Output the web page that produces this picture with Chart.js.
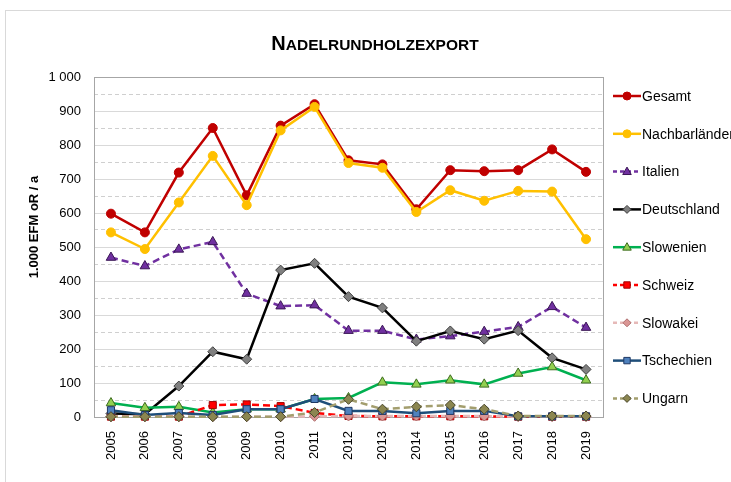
<!DOCTYPE html>
<html>
<head>
<meta charset="utf-8">
<script src="https://cdn.jsdelivr.net/npm/chart.js@4.4.0/dist/chart.umd.min.js"></script>
<style>
html, body { margin: 0; padding: 0; background: #fff; }
#wrap { width: 731px; height: 482px; position: relative; }
</style>
</head>
<body>
<div id="wrap"><canvas id="chart"></canvas></div>
<script>
// data (1.000 EFM oR / a)
const years = ['2005', '2006', '2007', '2008', '2009', '2010', '2011', '2012', '2013', '2014', '2015', '2016', '2017', '2018', '2019'];
const gesamt = [598, 543, 719, 850, 652, 857, 920, 755, 743, 611, 726, 723, 726, 787, 721];
const nachbarlaender = [543, 494, 631, 768, 623, 843, 912, 747, 733, 603, 667, 636, 665, 663, 523];
const italien = [469, 444, 493, 515, 363, 326, 329, 254, 254, 228, 238, 251, 265, 324, 263];
const deutschland = [10, 8, 91, 192, 170, 432, 452, 354, 321, 223, 253, 229, 254, 174, 140];
const slowenien = [41, 27, 30, 13, 23, 23, 53, 56, 102, 96, 108, 96, 128, 147, 108];
const schweiz = [1, 1, 1, 35, 37, 32, 12, 3, 2, 2, 2, 2, 1, 1, 1];
const slowakei = [1, 1, 1, 1, 1, 1, 2, 3, 3, 3, 3, 3, 1, 1, 1];
const tschechien = [20, 6, 12, 6, 23, 23, 53, 18, 18, 11, 18, 18, 2, 2, 2];
const ungarn = [1, 1, 1, 1, 1, 1, 13, 52, 23, 30, 35, 23, 3, 3, 3];
const yTicks = [0, 100, 200, 300, 400, 500, 600, 700, 800, 900, 1000];

const FONT = "'Liberation Sans', Arial, sans-serif";

function series(label, data, line, dash, style, fill, edge, radius) {
    return {
        label: label,
        data: data,
        borderColor: line,
        backgroundColor: line,
        borderWidth: 2.5,
        borderDash: dash,
        pointStyle: style,
        pointRadius: radius,
        pointHoverRadius: radius,
        pointBackgroundColor: fill,
        pointBorderColor: edge,
        pointBorderWidth: 1,
        tension: 0,
        fill: false,
        clip: false
    };
}

const datasets = [
    series('Gesamt', gesamt, '#c00000', [], 'circle', '#c00000', '#c00000', 4.5),
    series('Nachbarländer', nachbarlaender, '#ffc000', [], 'circle', '#ffc000', '#ffc000', 4.5),
    series('Italien', italien, '#7030a0', [7, 4], 'triangle', '#7030a0', '#3a1655', 5.5),
    series('Deutschland', deutschland, '#000000', [], 'rectRot', '#808080', '#404040', 5),
    series('Slowenien', slowenien, '#00b050', [], 'triangle', '#92d050', '#3d6b1f', 5.5),
    series('Schweiz', schweiz, '#ff0000', [7, 4], 'rect', '#ff0000', '#a00000', 5),
    series('Slowakei', slowakei, '#e6b9b8', [7, 4], 'rectRot', '#da9694', '#b07070', 5),
    series('Tschechien', tschechien, '#1f4e79', [], 'rect', '#4f81bd', '#1f3864', 5),
    series('Ungarn', ungarn, '#a39e6e', [7, 4], 'rectRot', '#8b8650', '#4a472a', 5)
];
// later series on top, like the original
datasets.forEach((d, i) => { d.order = datasets.length - i; });

function marker(ctx, ds, x, y, r) {
    ctx.save();
    ctx.fillStyle = ds.pointBackgroundColor;
    ctx.strokeStyle = ds.pointBorderColor;
    ctx.lineWidth = 1;
    ctx.setLineDash([]);
    ctx.beginPath();
    if (ds.pointStyle === 'circle') {
        ctx.arc(x, y, r, 0, Math.PI * 2);
    } else if (ds.pointStyle === 'triangle') {
        ctx.moveTo(x, y - r);
        ctx.lineTo(x + r * 0.95, y + r * 0.65);
        ctx.lineTo(x - r * 0.95, y + r * 0.65);
        ctx.closePath();
    } else if (ds.pointStyle === 'rect') {
        ctx.rect(x - r * 0.8, y - r * 0.8, r * 1.6, r * 1.6);
    } else {
        ctx.moveTo(x, y - r);
        ctx.lineTo(x + r, y);
        ctx.lineTo(x, y + r);
        ctx.lineTo(x - r, y);
        ctx.closePath();
    }
    ctx.fill();
    ctx.stroke();
    ctx.restore();
}

const decor = {
    id: 'decor',
    beforeDraw(chart) {
        const ctx = chart.ctx;
        ctx.save();
        ctx.fillStyle = '#fff';
        ctx.fillRect(0, 0, chart.width, chart.height);
        ctx.strokeStyle = '#d9d9d9';
        ctx.lineWidth = 1;
        ctx.strokeRect(5.5, 10.5, chart.width + 20, chart.height + 20);
        ctx.restore();
    },
    beforeDatasetsDraw(chart) {
        const ctx = chart.ctx;
        const a = chart.chartArea;
        ctx.save();
        ctx.strokeStyle = '#a6a6a6';
        ctx.lineWidth = 1;
        ctx.strokeRect(Math.round(a.left) + 0.5, Math.round(a.top) + 0.5, Math.round(a.right - a.left), Math.round(a.bottom - a.top));
        ctx.restore();
    },
    afterDraw(chart) {
        const ctx = chart.ctx;
        ctx.save();
        // title in small caps
        ctx.fillStyle = '#000';
        ctx.textBaseline = 'alphabetic';
        ctx.textAlign = 'left';
        const big = 'bold 20px ' + FONT;
        const small = 'bold 15.5px ' + FONT;
        ctx.font = big;
        const w1 = ctx.measureText('N').width;
        ctx.font = small;
        const w2 = ctx.measureText('ADELRUNDHOLZEXPORT').width;
        const x0 = 375 - (w1 + w2) / 2;
        ctx.font = big;
        ctx.fillText('N', x0, 50);
        ctx.font = small;
        ctx.fillText('ADELRUNDHOLZEXPORT', x0 + w1, 50);

        // y axis title
        ctx.save();
        ctx.translate(38, 227);
        ctx.rotate(-Math.PI / 2);
        ctx.textAlign = 'center';
        ctx.font = 'bold 13px ' + FONT;
        ctx.fillText('1.000 EFM oR / a', 0, 0);
        ctx.restore();

        // legend
        ctx.font = '14px ' + FONT;
        ctx.textBaseline = 'middle';
        chart.data.datasets.forEach((ds, i) => {
            const y = 96 + i * 37.8;
            ctx.save();
            ctx.strokeStyle = ds.borderColor;
            ctx.lineWidth = 2.5;
            ctx.setLineDash(ds.borderDash.length ? [4, 3] : []);
            ctx.beginPath();
            ctx.moveTo(613, y);
            ctx.lineTo(641, y);
            ctx.stroke();
            ctx.restore();
            marker(ctx, ds, 627, y, ds.pointStyle === 'triangle' ? 4.5 : 4);
            ctx.fillStyle = '#000';
            ctx.fillText(ds.label, 642, y + 1);
        });
        ctx.restore();
    }
};

new Chart(document.getElementById('chart'), {
    type: 'line',
    data: { labels: years, datasets: datasets },
    options: {
        responsive: true,
        maintainAspectRatio: false,
        animation: false,
        devicePixelRatio: 1,
        layout: { padding: { left: 0, top: 77, right: 128, bottom: 0 } },
        plugins: {
            legend: { display: false },
            title: { display: false },
            tooltip: { enabled: false }
        },
        scales: {
            x: {
                offset: true,
                grid: { display: false },
                border: { color: '#a6a6a6' },
                ticks: {
                    minRotation: 90,
                    maxRotation: 90,
                    padding: 6,
                    color: '#000',
                    font: { family: FONT, size: 13 }
                },
                afterFit(s) { s.height = 65; }
            },
            y: {
                min: 0,
                max: 1000,
                afterBuildTicks(s) { s.ticks = yTicks.map(v => ({ value: v })); },
                grid: { color: '#d9d9d9', lineWidth: 1, drawTicks: false },
                border: { color: '#a6a6a6' },
                ticks: {
                    padding: 13,
                    color: '#000',
                    font: { family: FONT, size: 13 },
                    callback: v => String(v).replace(/\B(?=(\d{3})+(?!\d))/g, ' ')
                },
                afterFit(s) { s.width = 94; }
            },
            y2: {
                position: 'left',
                min: 0,
                max: 1000,
                ticks: { display: false, stepSize: 50 },
                grid: {
                    drawTicks: false,
                    color: c => (c.tick && c.tick.value % 100 !== 0) ? '#cfcfcf' : 'rgba(0,0,0,0)'
                },
                border: { display: false, dash: [4, 3] },
                afterFit(s) { s.width = 0; }
            }
        }
    },
    plugins: [decor]
});
</script>
</body>
</html>
